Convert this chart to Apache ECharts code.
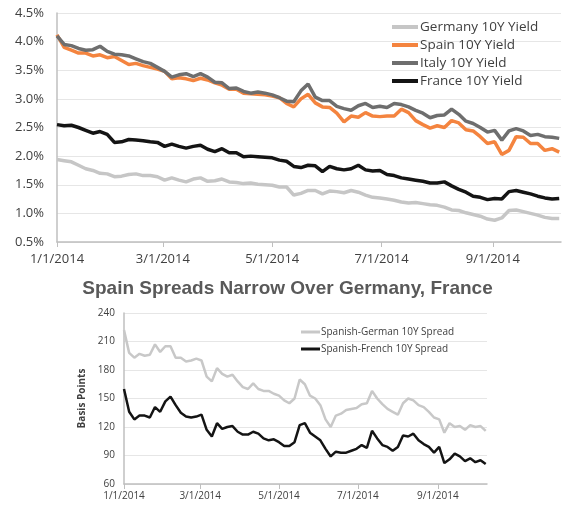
<!DOCTYPE html>
<html>
<head>
<meta charset="utf-8">
<script src="https://cdn.jsdelivr.net/npm/echarts@6/dist/echarts.min.js"></script>
<style>
  html, body { margin: 0; padding: 0; background: #fff; }
  #chart { width: 575px; height: 511px; }
</style>
</head>
<body>
<div id="chart"></div>
<script>
  // days since 1/1/2014
  const days = [0, 4, 8, 12, 16, 20, 24, 28, 32, 36, 40, 44, 48, 52, 56, 60, 64, 68, 72, 76,
    80, 84, 88, 92, 96, 100, 104, 108, 112, 116, 120, 124, 128, 132, 136, 140, 144, 148, 152, 156,
    160, 164, 168, 172, 176, 180, 184, 188, 192, 196, 200, 204, 208, 212, 216, 220, 224, 228, 232, 236,
    240, 244, 248, 252, 256, 260, 264, 268, 272, 276, 280]

  const tickDays = [0, 59, 120, 181, 243]
  const tickLabels = ['1/1/2014', '3/1/2014', '5/1/2014', '7/1/2014', '9/1/2014']

  // top chart: 10Y yields (%)
  const germany = [1.94, 1.92, 1.90, 1.84, 1.78, 1.75, 1.70, 1.69, 1.64, 1.65, 1.68, 1.69, 1.66, 1.66, 1.64, 1.58, 1.62, 1.58, 1.55, 1.60,
    1.62, 1.56, 1.57, 1.60, 1.55, 1.54, 1.52, 1.53, 1.51, 1.50, 1.49, 1.46, 1.46, 1.32, 1.35, 1.40, 1.40, 1.34, 1.39, 1.38,
    1.36, 1.40, 1.37, 1.32, 1.28, 1.27, 1.25, 1.23, 1.20, 1.18, 1.19, 1.17, 1.15, 1.14, 1.11, 1.06, 1.05, 1.01, 0.98, 0.95,
    0.90, 0.88, 0.92, 1.05, 1.06, 1.03, 1.00, 0.97, 0.93, 0.91, 0.91]
  const spain = [4.12, 3.90, 3.85, 3.80, 3.80, 3.75, 3.77, 3.72, 3.74, 3.67, 3.60, 3.62, 3.58, 3.55, 3.52, 3.48, 3.35, 3.37, 3.35, 3.32,
    3.36, 3.33, 3.28, 3.24, 3.17, 3.17, 3.10, 3.09, 3.08, 3.07, 3.05, 3.02, 2.92, 2.86, 3.00, 3.08, 2.93, 2.86, 2.85, 2.75,
    2.60, 2.70, 2.68, 2.76, 2.70, 2.69, 2.70, 2.70, 2.82, 2.76, 2.62, 2.55, 2.49, 2.53, 2.50, 2.62, 2.58, 2.46, 2.44, 2.34,
    2.22, 2.25, 2.03, 2.10, 2.34, 2.33, 2.22, 2.22, 2.10, 2.13, 2.07]
  const italy = [4.10, 3.95, 3.93, 3.88, 3.85, 3.86, 3.92, 3.83, 3.78, 3.77, 3.75, 3.70, 3.65, 3.62, 3.55, 3.48, 3.38, 3.42, 3.44, 3.39,
    3.44, 3.38, 3.29, 3.28, 3.18, 3.19, 3.13, 3.10, 3.12, 3.10, 3.07, 3.02, 2.96, 2.95, 3.14, 3.26, 3.03, 2.97, 2.97, 2.87,
    2.83, 2.80, 2.88, 2.92, 2.85, 2.87, 2.85, 2.92, 2.90, 2.86, 2.80, 2.75, 2.67, 2.71, 2.72, 2.82, 2.73, 2.61, 2.57, 2.50,
    2.42, 2.45, 2.28, 2.44, 2.48, 2.44, 2.36, 2.38, 2.34, 2.33, 2.31]
  const france = [2.55, 2.53, 2.54, 2.50, 2.45, 2.40, 2.43, 2.38, 2.24, 2.25, 2.29, 2.28, 2.27, 2.25, 2.24, 2.17, 2.21, 2.17, 2.14, 2.17,
    2.19, 2.12, 2.08, 2.13, 2.06, 2.06, 1.99, 2.00, 1.99, 1.98, 1.97, 1.93, 1.91, 1.82, 1.80, 1.84, 1.83, 1.73, 1.82, 1.78,
    1.76, 1.78, 1.84, 1.76, 1.74, 1.75, 1.68, 1.66, 1.62, 1.60, 1.58, 1.56, 1.53, 1.53, 1.55, 1.48, 1.42, 1.37, 1.30, 1.28,
    1.24, 1.26, 1.25, 1.38, 1.40, 1.37, 1.34, 1.30, 1.27, 1.25, 1.26]

  // bottom chart: spreads (basis points)
  const spreadGerman = [222, 198, 193, 197, 195, 196, 207, 199, 205, 205, 193, 193, 189, 190, 192, 190, 173, 168, 182, 176,
    173, 175, 168, 162, 160, 166, 160, 158, 158, 155, 153, 148, 145, 150, 170, 165, 153, 150, 143, 128,
    120, 132, 134, 138, 139, 140, 144, 145, 158, 150, 144, 139, 136, 133, 145, 150, 148, 143, 141, 136,
    130, 128, 114, 124, 120, 121, 117, 122, 120, 121, 116]
  const spreadFrench = [160, 136, 128, 132, 132, 130, 141, 136, 147, 152, 143, 135, 131, 130, 131, 133, 117, 110, 124, 118,
    120, 121, 115, 112, 112, 115, 113, 108, 106, 107, 104, 100, 100, 104, 122, 124, 114, 110, 106, 97,
    89, 94, 93, 93, 95, 97, 101, 98, 116, 108, 101, 99, 95, 99, 111, 110, 113, 106, 102, 99,
    93, 99, 82, 86, 92, 89, 84, 87, 83, 85, 81]

  const pairs = (vals) => days.map((d, i) => [d, vals[i]])

  const labelColor = '#404040'
  const axisGrey = '#bfbfbf'
  const gridGrey = '#e6e6e6'

  function dateAxis (gridIndex, fontSize, margin) {
    return {
      type: 'value',
      gridIndex: gridIndex,
      min: 0,
      max: 281,
      axisLine: { show: true, lineStyle: { color: axisGrey, width: 1.5 } },
      axisTick: { show: true, customValues: tickDays, length: 5, lineStyle: { color: axisGrey } },
      axisLabel: {
        customValues: tickDays,
        formatter: (v) => tickLabels[tickDays.indexOf(v)],
        color: labelColor,
        fontSize: fontSize,
        margin: margin
      },
      splitLine: { show: false }
    }
  }

  const chart = echarts.init(document.getElementById('chart'))

  const option = {
    animation: false,
    textStyle: { fontFamily: 'Open Sans' },
    title: {
      text: 'Spain Spreads Narrow Over Germany, France',
      left: 'center',
      top: 274,
      textStyle: { fontFamily: 'Liberation Sans', fontSize: 19, fontWeight: 'bold', color: '#595959' }
    },
    legend: [{
      left: 392,
      top: 20,
      padding: 0,
      orient: 'vertical',
      itemGap: 4,
      itemWidth: 26,
      itemHeight: 4,
      icon: 'rect',
      textStyle: { color: labelColor, fontSize: 13.5, padding: [0, 0, 0, -3] },
      data: ['Germany 10Y Yield', 'Spain 10Y Yield', 'Italy 10Y Yield', 'France 10Y Yield']
    }, {
      left: 301,
      top: 327,
      padding: 0,
      orient: 'vertical',
      itemGap: 7,
      itemWidth: 19,
      itemHeight: 3,
      icon: 'rect',
      textStyle: { color: labelColor, fontSize: 10, padding: [0, 0, 0, -4] },
      data: ['Spanish-German 10Y Spread', 'Spanish-French 10Y Spread']
    }],
    grid: [
      { left: 57, right: 14, top: 13, height: 229 },
      { left: 124, right: 88, top: 313, height: 171 }
    ],
    xAxis: [dateAxis(0, 13, 11), dateAxis(1, 10, 7)],
    yAxis: [{
      type: 'value',
      gridIndex: 0,
      min: 0.5,
      max: 4.5,
      interval: 0.5,
      axisLine: { show: true, lineStyle: { color: axisGrey, width: 1.5 } },
      axisTick: { show: false },
      axisLabel: { color: labelColor, fontSize: 13, margin: 13, formatter: (v) => v.toFixed(1) + '%' },
      splitLine: { lineStyle: { color: gridGrey } }
    }, {
      type: 'value',
      gridIndex: 1,
      min: 60,
      max: 240,
      interval: 30,
      name: 'Basis Points',
      nameLocation: 'middle',
      nameGap: 27,
      nameTextStyle: { color: labelColor, fontSize: 10, fontWeight: 'bold' },
      axisLine: { show: true, lineStyle: { color: axisGrey, width: 1.5 } },
      axisTick: { show: false },
      axisLabel: { color: labelColor, fontSize: 10, margin: 9 },
      splitLine: { lineStyle: { color: gridGrey } }
    }],
    series: [
      { name: 'Germany 10Y Yield', type: 'line', xAxisIndex: 0, yAxisIndex: 0, data: pairs(germany), showSymbol: false, color: '#c6c6c6', lineStyle: { width: 3.5 } },
      { name: 'Spain 10Y Yield', type: 'line', xAxisIndex: 0, yAxisIndex: 0, data: pairs(spain), showSymbol: false, color: '#f4843f', lineStyle: { width: 3.5 } },
      { name: 'Italy 10Y Yield', type: 'line', xAxisIndex: 0, yAxisIndex: 0, data: pairs(italy), showSymbol: false, color: '#6e6e6e', lineStyle: { width: 3.5 } },
      { name: 'France 10Y Yield', type: 'line', xAxisIndex: 0, yAxisIndex: 0, data: pairs(france), showSymbol: false, color: '#141414', lineStyle: { width: 3.5 } },
      { name: 'Spanish-German 10Y Spread', type: 'line', xAxisIndex: 1, yAxisIndex: 1, data: pairs(spreadGerman), showSymbol: false, color: '#c8c8c8', lineStyle: { width: 2.5 } },
      { name: 'Spanish-French 10Y Spread', type: 'line', xAxisIndex: 1, yAxisIndex: 1, data: pairs(spreadFrench), showSymbol: false, color: '#141414', lineStyle: { width: 2.5 } }
    ]
  }

  chart.setOption(option)
</script>
</body>
</html>
